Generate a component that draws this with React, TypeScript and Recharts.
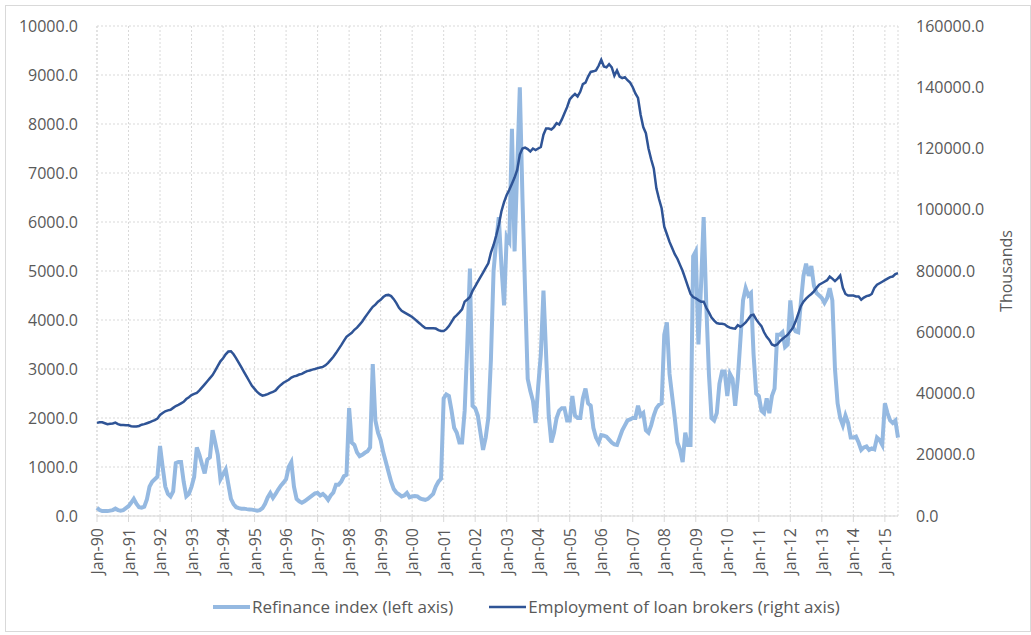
import React from 'react';
import { LineChart, Line, XAxis, YAxis, CartesianGrid, Legend } from 'recharts';

const FONT = "'Open Sans', sans-serif";

const MONTH_NAMES = ['Jan', 'Feb', 'Mar', 'Apr', 'May', 'Jun', 'Jul', 'Aug', 'Sep', 'Oct', 'Nov', 'Dec'];
const YEARS = ['90', '91', '92', '93', '94', '95', '96', '97', '98', '99', '00', '01', '02',
  '03', '04', '05', '06', '07', '08', '09', '10', '11', '12', '13', '14', '15'];
const MONTHS_IN_LAST_YEAR = 6;

// monthly, one row per year
const refinanceIndex = [
  170, 120, 100, 100, 100, 110, 120, 150, 120, 110, 120, 160,
  200, 270, 350, 250, 180, 170, 190, 340, 600, 700, 750, 800,
  1430, 1000, 600, 450, 400, 500, 1080, 1100, 1100, 700, 400, 450,
  600, 800, 1400, 1250, 1050, 870, 1150, 1200, 1750, 1500, 1250, 750,
  850, 950, 650, 350, 240, 180, 160, 150, 150, 140, 135, 130,
  120, 110, 120, 160, 250, 380, 470, 370, 450, 540, 620, 680,
  750, 1000, 1100, 600, 350, 300, 270, 300, 340, 380, 420, 460,
  470, 420, 450, 400, 330, 420, 480, 640, 640, 700, 810, 840,
  2200, 1500, 1450, 1300, 1220, 1250, 1290, 1320, 1400, 3100, 1950, 1700,
  1550, 1300, 1100, 900, 700, 550, 480, 440, 400, 420, 470, 380,
  400, 410, 400, 360, 340, 330, 350, 400, 450, 600, 700, 760,
  2400, 2480, 2450, 2150, 1800, 1700, 1500, 1500, 2150, 3500, 5050, 2250,
  2200, 2050, 1700, 1350, 1600, 2000, 3200, 5000, 5600, 6100, 5100, 4300,
  5700, 5600, 7900, 5400, 7100, 8750, 6500, 4600, 2800, 2550, 2350, 1900,
  2650, 3300, 4600, 3300, 2050, 1500, 1700, 2000, 2150, 2200, 2200, 1950,
  1950, 2450, 2050, 2000, 2000, 2400, 2600, 2300, 2250, 1800, 1600, 1500,
  1650, 1640, 1620, 1560, 1500, 1460, 1450, 1600, 1750, 1850, 1950, 1970,
  2000, 2000, 2250, 2050, 2100, 1750, 1700, 1850, 2050, 2200, 2270, 2300,
  3700, 3950, 2900, 2450, 2000, 1500, 1350, 1100, 1700, 1450, 1450, 5300,
  5400, 3500, 4700, 6100, 4300, 2900, 2000, 1950, 2100, 2700, 2950, 2950,
  2450, 2900, 2800, 2250, 2800, 3600, 4400, 4650, 4500, 4550, 3300, 2500,
  2450, 2150, 2100, 2400, 2100, 2450, 2600, 3700, 3700, 3750, 3450, 3500,
  4400, 3850, 3770, 3750, 4350, 4900, 5150, 4900, 5100, 4700, 4550, 4500,
  4450, 4350, 4450, 4650, 4400, 3000, 2300, 2000, 1850, 2050, 1900, 1600,
  1600, 1620, 1500, 1350, 1400, 1420, 1350, 1380, 1360, 1600, 1550, 1450,
  2300, 2100, 1950, 1900, 1950, 1600,
];

const loanBrokerEmployment = [
  30400, 30600, 30600, 30300, 30000, 30100, 30200, 30500, 30000, 29700, 29700, 29600,
  29600, 29300, 29200, 29200, 29400, 29800, 30000, 30300, 30600, 31000, 31300, 31800,
  33000, 33600, 34200, 34500, 34700, 35300, 35900, 36300, 36800, 37300, 38200, 38800,
  39500, 39900, 40200, 41000, 42000, 43000, 44000, 45000, 46000, 47500, 49000, 50500,
  51500, 52800, 53700, 53800, 52800, 51500, 50000, 48500, 47000, 45500, 44000, 42500,
  41500, 40500, 39800, 39300, 39500, 39800, 40200, 40500, 41000, 42000, 42800, 43500,
  44000, 44500, 45200, 45600, 45800, 46200, 46400, 46900, 47300, 47500, 47800, 48000,
  48300, 48500, 48700, 49200, 50000, 51000, 52000, 53200, 54500, 55800, 57200, 58500,
  59200, 59800, 60800, 61500, 62500, 63500, 64800, 66000, 67200, 68300, 69000, 70000,
  70600, 71500, 72100, 72200, 71800, 70800, 69500, 68000, 67000, 66500, 66000, 65500,
  65000, 64300, 63500, 62800, 62000, 61400, 61300, 61300, 61300, 61200, 60700, 60400,
  60400, 61000, 62000, 63400, 64800, 65600, 66500, 67500, 70000, 70700, 71500, 73500,
  75000, 76500, 78000, 79500, 81000, 82500, 86000, 88500, 91500, 95000, 99500, 102500,
  104800, 106500, 108500, 110500, 113000, 118000, 120000, 120300, 119800, 119000, 120000, 119500,
  120000, 120500, 124500, 126500, 126500, 126200, 127000, 128300, 127800, 129500, 131500, 133500,
  136000, 137000, 137800, 137000, 138500, 141000, 141500, 143500, 145000, 145200, 145500, 147000,
  149000, 146800, 146500, 147500, 146500, 143800, 145500, 143500, 143000, 143300, 142300, 141500,
  140000, 138000, 136500, 131000, 127000, 125000, 120000, 116500, 113500, 107000, 103500, 100500,
  94500, 92000, 89500, 87500, 85500, 84000, 82000, 80000, 77500, 75000, 72500, 71500,
  71100, 70500, 70000, 70000, 68000, 66500, 64800, 63800, 63000, 62800, 62800, 62600,
  61900, 61500, 61300, 61200, 62300, 61800, 62400, 63200, 64300, 65500, 65700, 64200,
  63000, 62000, 60000, 58500, 57500, 56000, 55600, 56000, 57000, 57800, 58500, 59200,
  60300, 61500, 63500, 66000, 68500, 70000, 71000, 71800, 72500, 73300, 74500, 75500,
  76000, 76500, 77000, 78200, 77500, 76700, 77500, 78500, 74500, 72500, 72000, 72000,
  72000, 71700, 71700, 70600, 71300, 71800, 72000, 72500, 74500, 75500, 76000, 76500,
  77000, 77500, 78000, 78200, 79000, 79300,
];

const LEFT_TICKS = [0, 1000, 2000, 3000, 4000, 5000, 6000, 7000, 8000, 9000, 10000];
const RIGHT_TICKS = [0, 20000, 40000, 60000, 80000, 100000, 120000, 140000, 160000];
const SERIES_ORDER = ['refinance', 'employment'];

const months: string[] = [];
YEARS.forEach((yy, i) => {
  const count = i === YEARS.length - 1 ? MONTHS_IN_LAST_YEAR : 12;
  for (let m = 0; m < count; m++) months.push(`${MONTH_NAMES[m]}-${yy}`);
});

const data = months.map((month, i) => ({
  month,
  refinance: refinanceIndex[i],
  employment: loanBrokerEmployment[i],
}));

const fmt = (v: number) => v.toFixed(1);

const MonthTick = ({ x, y, payload }: any) => (
  <text
    x={x}
    y={y}
    transform={`rotate(-90 ${x} ${y})`}
    textAnchor="end"
    dominantBaseline="central"
    fontSize={16}
    fontFamily={FONT}
    fill="#595959"
  >
    {payload.value}
  </text>
);

const renderLegend = ({ payload }: any) => {
  const items = [...(payload || [])].sort(
    (a: any, b: any) => SERIES_ORDER.indexOf(a.dataKey) - SERIES_ORDER.indexOf(b.dataKey)
  );
  return (
    <div style={{ display: 'flex', gap: 36, fontFamily: FONT, fontSize: 17, color: '#595959' }}>
      {items.map((entry: any) => (
        <span key={entry.value} style={{ display: 'flex', alignItems: 'center' }}>
          <svg width={37} height={10}>
            <line x1={0} y1={5} x2={37} y2={5} stroke={entry.color}
              strokeWidth={entry.dataKey === 'refinance' ? 4 : 2.5} />
          </svg>
          <span style={{ marginLeft: 2 }}>{entry.value}</span>
        </span>
      ))}
    </div>
  );
};

const App = () => {
  return (
    <div style={{ position: 'absolute', left: 0, top: 0, width: 1031, height: 635, background: '#fff' }}>
      <div style={{ position: 'absolute', left: 5, top: 5, width: 1024, height: 625, border: '1px solid #d9d9d9' }} />
      <LineChart
        width={1031}
        height={635}
        data={data}
        margin={{ top: 26, right: 0, bottom: 0, left: 0 }}
      >
        <CartesianGrid yAxisId="left" stroke="#d9d9d9" strokeDasharray="2 2" />
        <XAxis
          dataKey="month"
          interval={11}
          height={119}
          tickSize={6}
          tickMargin={6}
          tick={<MonthTick />}
          tickLine={{ stroke: '#d9d9d9' }}
          axisLine={{ stroke: '#d9d9d9' }}
        />
        <YAxis
          yAxisId="left"
          width={97}
          domain={[0, 10000]}
          ticks={LEFT_TICKS}
          tickFormatter={fmt}
          axisLine={false}
          tickLine={false}
          tickSize={0}
          tickMargin={19}
          tick={{ fill: '#595959', fontSize: 16, fontFamily: FONT }}
        />
        <YAxis
          yAxisId="right"
          orientation="right"
          width={133}
          domain={[0, 160000]}
          ticks={RIGHT_TICKS}
          tickFormatter={fmt}
          axisLine={false}
          tickLine={false}
          tickSize={0}
          tickMargin={18}
          tick={{ fill: '#595959', fontSize: 16, fontFamily: FONT }}
          label={{
            content: () => (
              <text x={1006} y={271} transform="rotate(-90 1006 271)" textAnchor="middle"
                dominantBaseline="central" fontSize={16} fontFamily={FONT} fill="#595959">
                Thousands
              </text>
            ),
          }}
        />
        <Legend
          layout="horizontal"
          verticalAlign="middle"
          align="center"
          content={renderLegend}
          wrapperStyle={{ top: 595, left: 213, width: 780 }}
        />
        <Line
          yAxisId="left"
          type="linear"
          dataKey="refinance"
          name="Refinance index (left axis)"
          stroke="#95B9E1"
          strokeWidth={4}
          dot={false}
          isAnimationActive={false}
        />
        <Line
          yAxisId="right"
          type="linear"
          dataKey="employment"
          name="Employment of loan brokers (right axis)"
          stroke="#2F5496"
          strokeWidth={2.5}
          dot={false}
          isAnimationActive={false}
        />
      </LineChart>
    </div>
  );
};

export default App;
